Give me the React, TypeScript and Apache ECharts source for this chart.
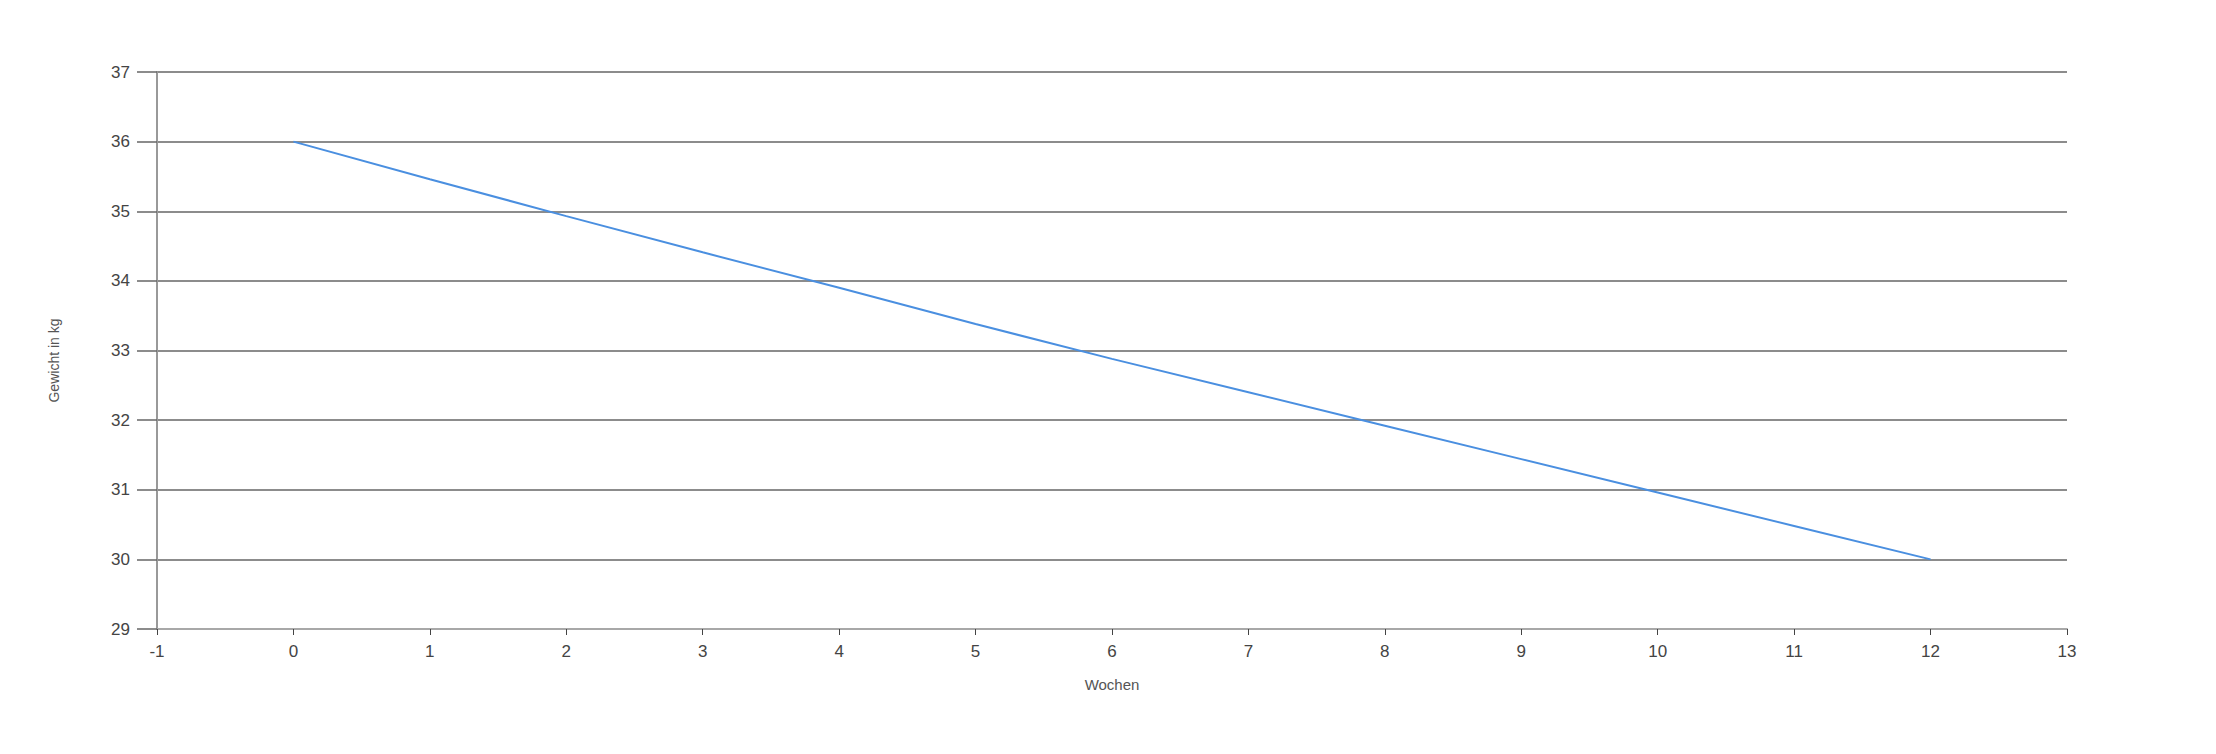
import React, { useEffect, useRef } from "react";
import * as echarts from "echarts";

const weeks: number[] = [0, 1, 2, 3, 4, 5, 6, 7, 8, 9, 10, 11, 12];
const weights: number[] = [36, 35.46, 34.93, 34.41, 33.9, 33.38, 32.88, 32.4, 31.92, 31.44, 30.96, 30.48, 30];
const xAxisName = "Wochen";
const yAxisName = "Gewicht in kg";

export default function App() {
  const ref = useRef<HTMLDivElement>(null);
  useEffect(() => {
    if (!ref.current) return;
    const chart = echarts.init(ref.current, undefined, { renderer: "svg" });
    const font = "'Liberation Sans', Arial, sans-serif";
    chart.setOption({
      animation: false,
      backgroundColor: "#ffffff",
      grid: { left: 157, right: 149, top: 72, bottom: 125, containLabel: false },
      xAxis: {
        type: "value",
        min: -1,
        max: 13,
        interval: 1,
        name: xAxisName,
        nameLocation: "middle",
        nameGap: 48,
        nameTextStyle: { fontFamily: font, fontSize: 15, color: "#555" },
        axisLine: { show: true, onZero: false, lineStyle: { color: "#a8a8a8", width: 2 } },
        axisTick: { show: true, length: 6, lineStyle: { color: "#444", width: 1 } },
        axisLabel: { margin: 14, fontFamily: font, fontSize: 17, color: "#444" },
        splitLine: { show: false },
      },
      yAxis: {
        type: "value",
        min: 29,
        max: 37,
        interval: 1,
        name: yAxisName,
        nameLocation: "middle",
        nameGap: 96,
        nameTextStyle: { fontFamily: font, fontSize: 14, color: "#555", padding: [0, 20, 0, 0] },
        axisLine: { show: true, onZero: false, lineStyle: { color: "#999", width: 2 } },
        axisTick: { show: true, length: 20, lineStyle: { color: "#666", width: 1.5 } },
        axisLabel: { margin: 27, fontFamily: font, fontSize: 17, color: "#444" },
        splitLine: { show: true, lineStyle: { color: "#666", width: 1.5, type: "solid" } },
      },
      series: [
        {
          type: "line",
          data: weeks.map((w, i) => [w, weights[i]]),
          showSymbol: false,
          symbol: "none",
          lineStyle: { color: "#4a8fe0", width: 2 },
          z: 5,
        },
      ],
    });
    return () => chart.dispose();
  }, []);
  return (
    <div
      ref={ref}
      style={{ position: "fixed", left: 0, top: 0, width: 2216, height: 754, background: "#fff" }}
    />
  );
}
